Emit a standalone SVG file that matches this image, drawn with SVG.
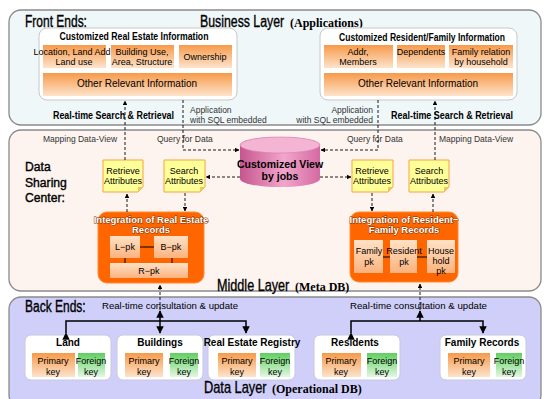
<svg xmlns="http://www.w3.org/2000/svg" width="544" height="399" viewBox="0 0 544 399">
<defs>
  <linearGradient id="og" x1="0" y1="0" x2="0" y2="1"><stop offset="0" stop-color="#f79a4a"/><stop offset="1" stop-color="#fde3cc"/></linearGradient>
  <linearGradient id="gg" x1="0" y1="0" x2="0" y2="1"><stop offset="0" stop-color="#5fcf5f"/><stop offset="1" stop-color="#e2f7e2"/></linearGradient>
  <linearGradient id="pk" x1="0" y1="0" x2="0" y2="1"><stop offset="0" stop-color="#ffe2c6"/><stop offset="1" stop-color="#fbb27e"/></linearGradient>
  <linearGradient id="cyl" x1="0" y1="0" x2="1" y2="0"><stop offset="0" stop-color="#c4568e"/><stop offset="0.55" stop-color="#f2a6cc"/><stop offset="1" stop-color="#d46aa2"/></linearGradient>
  <marker id="ah" viewBox="0 0 10 10" refX="9" refY="5" markerWidth="5" markerHeight="5" orient="auto"><path d="M0,0 L10,5 L0,10 z" fill="#000"/></marker>
  <style>
    text{font-family:"Liberation Sans",Arial,sans-serif;fill:#000}
    .panel{stroke:#8a8a8a;stroke-width:1.3}
    .inner{fill:#fff;stroke:#c8c8c8;stroke-width:1}
    .ob{fill:url(#og)}
    .gb{fill:url(#gg)}
    .big{font-size:16px;stroke:#000;stroke-width:0.35}
    .dsc{font-size:13.5px;stroke:#000;stroke-width:0.4}
    .ser{font-family:"Liberation Serif","Times New Roman",serif;font-weight:bold;font-size:12px}
    .t10{font-size:10px;font-weight:bold}
    .t9{font-size:9px}
    .sm{font-size:8.5px;fill:#333}
    .note{fill:#ffff99;stroke:#f5a540;stroke-width:1}
    .fold{fill:#f0c860}
    .dash{fill:none;stroke:#000;stroke-width:0.9;stroke-dasharray:3,2}
    .solid{fill:none;stroke:#000;stroke-width:1.5}
    .integ{fill:#ff6600;stroke:#ff8a33;stroke-width:1}
    .it{font-size:9.5px;font-weight:bold;fill:#fff;stroke:#7a3000;stroke-width:0.9;paint-order:stroke}
    .pkb{fill:url(#pk)}
    .node{fill:#fff;stroke:#c8c8e0;stroke-width:1}
  </style>
</defs>

<!-- panels -->
<g id="business-layer">
  <rect class="panel" x="9" y="10" width="532" height="115" rx="12" fill="#eff7f9"/>
  <text class="big" transform="translate(25,27) scale(0.75,1)">Front Ends:</text>
  <text class="big" transform="translate(200,27) scale(0.77,1)">Business Layer</text>
  <text class="ser" x="290" y="27">(Applications)</text>
</g>
<g id="middle-layer">
  <rect class="panel" x="9" y="130" width="532" height="161" rx="12" fill="#fdf3ef"/>
  <text class="dsc" transform="translate(25,171) scale(0.9,1)">Data</text>
  <text class="dsc" transform="translate(25,186.5) scale(0.9,1)">Sharing</text>
  <text class="dsc" transform="translate(25,202) scale(0.9,1)">Center:</text>
</g>
<g id="data-layer">
  <rect class="panel" x="9" y="297" width="532" height="110" rx="12" fill="#cfcff9"/>
  <text class="big" transform="translate(25,312) scale(0.75,1)">Back Ends:</text>
</g>
<text class="big" transform="translate(217,291) scale(0.79,1)">Middle Layer</text>
<text class="ser" x="295" y="291">(Meta DB)</text>
<text class="big" transform="translate(204,393) scale(0.8,1)">Data Layer</text>
<text class="ser" x="272" y="393">(Operational DB)</text>

<!-- top left -->
<g id="real-estate-info">
  <rect class="inner" x="39" y="28" width="198" height="72" rx="8"/>
  <text class="t10" x="134" y="40" text-anchor="middle" textLength="149" lengthAdjust="spacingAndGlyphs">Customized Real Estate Information</text>
  <rect class="ob" x="43" y="45" width="63" height="23"/>
  <rect class="ob" x="111" y="45" width="63" height="23"/>
  <rect class="ob" x="179" y="45" width="53" height="23"/>
  <rect class="ob" x="43" y="73" width="189" height="23"/>
  <text class="t9" x="72" y="55" text-anchor="middle">Location, Land Add</text>
  <text class="t9" x="74" y="65" text-anchor="middle">Land use</text>
  <text class="t9" x="142" y="55" text-anchor="middle">Building Use,</text>
  <text class="t9" x="142" y="65" text-anchor="middle">Area, Structure</text>
  <text class="t9" x="205" y="60" text-anchor="middle">Ownership</text>
  <text x="137" y="87" text-anchor="middle" font-size="10">Other Relevant Information</text>
</g>
<!-- top right -->
<g id="resident-info">
  <rect class="inner" x="320" y="28" width="197" height="72" rx="8"/>
  <text class="t10" x="422" y="41" text-anchor="middle" textLength="166" lengthAdjust="spacingAndGlyphs">Customized Resident/Family Information</text>
  <rect class="ob" x="324" y="45" width="69" height="23"/>
  <rect class="ob" x="397" y="45" width="48" height="23"/>
  <rect class="ob" x="449" y="45" width="64" height="23"/>
  <rect class="ob" x="324" y="73" width="189" height="23"/>
  <text class="t9" x="358" y="55" text-anchor="middle">Addr,</text>
  <text class="t9" x="358" y="65" text-anchor="middle">Members</text>
  <text class="t9" x="421" y="55" text-anchor="middle">Dependents</text>
  <text class="t9" x="481" y="55" text-anchor="middle">Family relation</text>
  <text class="t9" x="481" y="65" text-anchor="middle">by household</text>
  <text x="418" y="87" text-anchor="middle" font-size="10">Other  Relevant  Information</text>
</g>

<text class="t10" x="53" y="119" textLength="121" lengthAdjust="spacingAndGlyphs">Real-time Search &amp; Retrieval</text>
<text class="t10" x="391" y="119" textLength="122" lengthAdjust="spacingAndGlyphs">Real-time Search &amp; Retrieval</text>
<text class="sm" x="190" y="113">Application</text>
<text class="sm" x="190" y="123">with  SQL embedded</text>
<text class="sm" x="373" y="113" text-anchor="end">Application</text>
<text class="sm" x="373" y="123" text-anchor="end">with  SQL embedded</text>

<text class="sm" x="43" y="142">Mapping  Data-View</text>
<text class="sm" x="157" y="142">Query for Data</text>
<text class="sm" x="347" y="142">Query for Data</text>
<text class="sm" x="439" y="142">Mapping  Data-View</text>

<!-- cylinder -->
<g id="customized-view">
  <path d="M240,145 A40,8 0 0 1 320,145 V179 A40,8 0 0 1 240,179 Z" fill="url(#cyl)"/>
  <ellipse cx="280" cy="145" rx="40" ry="8" fill="#f4b4d4" stroke="#d67aa8" stroke-width="0.6"/>
  <text x="280" y="168" text-anchor="middle" font-size="10.5" font-weight="bold" fill="#111">Customized View</text>
  <text x="280" y="180" text-anchor="middle" font-size="10.5" font-weight="bold" fill="#111">by jobs</text>
</g>

<!-- notes -->
<g id="retrieve-left">
  <path class="note" d="M103,160 H143 V187 L138,192 H103 Z"/>
  <path class="fold" d="M143,187 L138,187 L138,192 Z"/>
  <text class="t9" x="123" y="174" text-anchor="middle">Retrieve</text>
  <text class="t9" x="123" y="184" text-anchor="middle">Attributes</text>
</g>
<g id="search-left">
  <path class="note" d="M164,160 H205 V187 L200,192 H164 Z"/>
  <path class="fold" d="M205,187 L200,187 L200,192 Z"/>
  <text class="t9" x="184" y="174" text-anchor="middle">Search</text>
  <text class="t9" x="184" y="184" text-anchor="middle">Attributes</text>
</g>
<g id="retrieve-right">
  <path class="note" d="M352,160 H393 V187 L388,192 H352 Z"/>
  <path class="fold" d="M393,187 L388,187 L388,192 Z"/>
  <text class="t9" x="372" y="174" text-anchor="middle">Retrieve</text>
  <text class="t9" x="372" y="184" text-anchor="middle">Attributes</text>
</g>
<g id="search-right">
  <path class="note" d="M409,160 H449 V187 L444,192 H409 Z"/>
  <path class="fold" d="M449,187 L444,187 L444,192 Z"/>
  <text class="t9" x="429" y="174" text-anchor="middle">Search</text>
  <text class="t9" x="429" y="184" text-anchor="middle">Attributes</text>
</g>

<!-- integration left -->
<g id="integration-real-estate">
  <rect class="integ" x="98" y="212" width="106" height="71" rx="9"/>
  <text class="it" x="151" y="223" text-anchor="middle">Integration of Real Estate</text>
  <text class="it" x="151" y="233" text-anchor="middle">Records</text>
  <rect class="pkb" x="110" y="236" width="30" height="22"/>
  <rect class="pkb" x="154" y="236" width="34" height="22"/>
  <rect class="pkb" x="110" y="263" width="78" height="15"/>
  <path d="M140,247 H154 M125,258 V263 M172,258 V263" stroke="#000" stroke-width="1"/>
  <text class="t9" x="125" y="250" text-anchor="middle">L−pk</text>
  <text class="t9" x="171" y="250" text-anchor="middle">B−pk</text>
  <text class="t9" x="149" y="274" text-anchor="middle">R−pk</text>
</g>
<!-- integration right -->
<g id="integration-resident">
  <rect class="integ" x="350" y="212" width="108" height="70" rx="9"/>
  <text class="it" x="404" y="223" text-anchor="middle">Integration of Resident−</text>
  <text class="it" x="404" y="233" text-anchor="middle">Family Records</text>
  <rect class="pkb" x="354" y="240" width="29" height="33"/>
  <rect class="pkb" x="390" y="240" width="27" height="33"/>
  <rect class="pkb" x="427" y="240" width="28" height="33"/>
  <path d="M383,257 H390 M417,257 H427" stroke="#000" stroke-width="1"/>
  <text class="t9" x="369" y="254" text-anchor="middle" font-size="9.5">Family</text>
  <text class="t9" x="369" y="265" text-anchor="middle">pk</text>
  <text class="t9" x="404" y="254" text-anchor="middle" font-size="9.5">Resident</text>
  <text class="t9" x="404" y="265" text-anchor="middle">pk</text>
  <text class="t9" x="441" y="254" text-anchor="middle" font-size="9.5">House</text>
  <text class="t9" x="441" y="264" text-anchor="middle">hold</text>
  <text class="t9" x="441" y="274" text-anchor="middle">pk</text>
</g>

<text class="t9" x="102" y="309" textLength="136" lengthAdjust="spacingAndGlyphs">Real-time consultation &amp; update</text>
<text class="t9" x="350" y="309" textLength="137" lengthAdjust="spacingAndGlyphs">Real-time consultation &amp; update</text>

<!-- bottom nodes -->
<g id="land">
  <rect class="node" x="25" y="335" width="86" height="45" rx="6"/>
  <text x="68" y="346" text-anchor="middle" font-size="10" font-weight="bold">Land</text>
  <rect class="ob" x="32" y="353" width="43" height="24"/>
  <rect class="gb" x="78" y="353" width="27" height="24"/>
  <text class="t9" x="53" y="364" text-anchor="middle">Primary</text>
  <text class="t9" x="53" y="375" text-anchor="middle">key</text>
  <text class="t9" x="91" y="364" text-anchor="middle">Foreign</text>
  <text class="t9" x="91" y="375" text-anchor="middle">key</text>
</g>
<g id="buildings">
  <rect class="node" x="117" y="335" width="86" height="45" rx="6"/>
  <text x="160" y="346" text-anchor="middle" font-size="10" font-weight="bold">Buildings</text>
  <rect class="ob" x="125" y="353" width="38" height="24"/>
  <rect class="gb" x="170" y="353" width="28" height="24"/>
  <text class="t9" x="144" y="364" text-anchor="middle">Primary</text>
  <text class="t9" x="144" y="375" text-anchor="middle">key</text>
  <text class="t9" x="184" y="364" text-anchor="middle">Foreign</text>
  <text class="t9" x="184" y="375" text-anchor="middle">key</text>
</g>
<g id="real-estate-registry">
  <rect class="node" x="208" y="335" width="87" height="45" rx="6"/>
  <text x="252" y="346" text-anchor="middle" font-size="10" font-weight="bold">Real Estate Registry</text>
  <rect class="ob" x="218" y="353" width="38" height="24"/>
  <rect class="gb" x="260" y="353" width="30" height="24"/>
  <text class="t9" x="237" y="364" text-anchor="middle">Primary</text>
  <text class="t9" x="237" y="375" text-anchor="middle">key</text>
  <text class="t9" x="275" y="364" text-anchor="middle">Foreign</text>
  <text class="t9" x="275" y="375" text-anchor="middle">key</text>
</g>
<g id="residents">
  <rect class="node" x="314" y="335" width="86" height="45" rx="6"/>
  <text x="355" y="346" text-anchor="middle" font-size="10" font-weight="bold">Residents</text>
  <rect class="ob" x="322" y="353" width="39" height="24"/>
  <rect class="gb" x="367" y="353" width="30" height="24"/>
  <text class="t9" x="341" y="364" text-anchor="middle">Primary</text>
  <text class="t9" x="341" y="375" text-anchor="middle">key</text>
  <text class="t9" x="382" y="364" text-anchor="middle">Foreign</text>
  <text class="t9" x="382" y="375" text-anchor="middle">key</text>
</g>
<g id="family-records">
  <rect class="node" x="440" y="335" width="86" height="45" rx="6"/>
  <text x="482" y="346" text-anchor="middle" font-size="10" font-weight="bold">Family Records</text>
  <rect class="ob" x="448" y="353" width="42" height="24"/>
  <rect class="gb" x="496" y="353" width="26" height="24"/>
  <text class="t9" x="469" y="364" text-anchor="middle">Primary</text>
  <text class="t9" x="469" y="375" text-anchor="middle">key</text>
  <text class="t9" x="509" y="364" text-anchor="middle">Foreign</text>
  <text class="t9" x="509" y="375" text-anchor="middle">key</text>
</g>

<!-- connectors -->
<g id="connectors">
  <path class="dash" d="M125,160 V101" marker-end="url(#ah)"/>
  <path class="dash" d="M183,100 V150 H239" marker-end="url(#ah)"/>
  <path class="dash" d="M378,100 V150 H321" marker-end="url(#ah)"/>
  <path class="dash" d="M435,160 V101" marker-end="url(#ah)"/>
  <path class="dash" d="M240,177 H206" marker-end="url(#ah)"/>
  <path class="dash" d="M320,177 H351" marker-end="url(#ah)"/>
  <path class="dash" d="M127,212 V194" marker-end="url(#ah)"/>
  <path class="dash" d="M185,193 V211" marker-end="url(#ah)"/>
  <path class="dash" d="M372,193 V211" marker-end="url(#ah)"/>
  <path class="dash" d="M433,212 V194" marker-end="url(#ah)"/>
  <path class="dash" d="M160,310 V285" marker-end="url(#ah)"/>
  <path class="dash" d="M420,310 V284" marker-end="url(#ah)"/>
  <path class="solid" d="M160,321 V311" marker-end="url(#ah)"/>
  <path class="solid" d="M420,321 V311" marker-end="url(#ah)"/>
  <path class="solid" d="M66,333 V321 H246 V333" marker-start="url(#ah)" marker-end="url(#ah)"/>
  <path class="solid" d="M160,321 V333" marker-end="url(#ah)"/>
  <path class="solid" d="M351,333 V321 H483 V333" marker-start="url(#ah)" marker-end="url(#ah)"/>
</g>
</svg>
